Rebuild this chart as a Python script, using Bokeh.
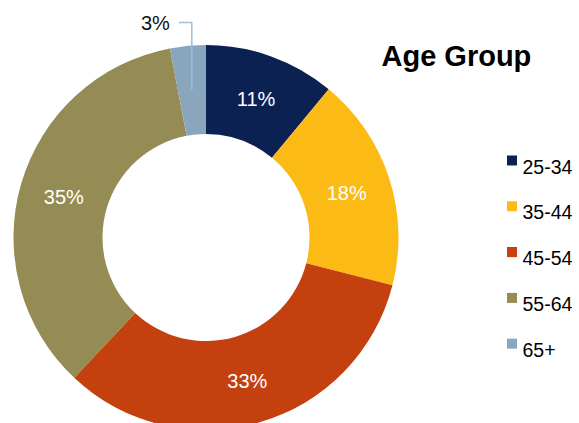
import math
from bokeh.plotting import figure
from bokeh.models import Range1d, ColumnDataSource
from bokeh.core.properties import value
from bokeh.embed import file_html
from bokeh.resources import INLINE

# ---- data ----
categories = ["25-34", "35-44", "45-54", "55-64", "65+"]
shares = [11, 18, 33, 35, 3]
colors = ["#0b2152", "#fbbb14", "#c4400f", "#958b55", "#8aa6bc"]
title_text = "Age Group"

# ---- layout (figure units == screen pixels, y up) ----
W, H = 579, 423
cx, cy = 205.5, H - 237.0
r_in, r_out = 103.5, 192.5
r_lab = 148.0
FONT = "Liberation Sans"

p = figure(width=W, height=H, output_backend="svg", toolbar_location=None,
           x_range=Range1d(0, W), y_range=Range1d(0, H), min_border=0)
p.axis.visible = False
p.grid.visible = False
p.outline_line_color = None
p.background_fill_color = "white"
p.border_fill_color = "white"

total = float(sum(shares))
starts, ends, mids = [], [], []
a = math.pi / 2
for s in shares:
    sweep = 2 * math.pi * s / total
    starts.append(a)
    ends.append(a - sweep)
    mids.append(a - sweep / 2)
    a -= sweep

src = ColumnDataSource(dict(start=starts, end=ends, color=colors,
                            cat=categories))
p.annular_wedge(x=cx, y=cy, inner_radius=r_in, outer_radius=r_out,
                start_angle="start", end_angle="end", direction="clock",
                fill_color="color", line_color=None, source=src)

# in-ring labels
lx, ly, lt = [], [], []
for s, m in zip(shares, mids):
    if s < 5:
        continue
    lx.append(cx + r_lab * math.cos(m))
    ly.append(cy + r_lab * math.sin(m) - 1)
    lt.append(f"{s}%")
p.text(x=lx, y=ly, text=lt, text_color="white", text_font=value(FONT),
       text_font_size="20px", text_align="center", text_baseline="middle")

# small slice label with leader line
small = [i for i, s in enumerate(shares) if s < 5]
for i in small:
    m = mids[i]
    ex = cx + (r_out - 10) * math.cos(m) + 3
    ey = cy + (r_out - 10) * math.sin(m) - 34
    top = H - 22
    p.line(x=[ex - 13, ex, ex], y=[top, top, ey], line_color="#9dbde0",
           line_width=1.5)
    p.text(x=[ex - 22], y=[top], text=[f"{shares[i]}%"], text_color="#111111",
           text_font=value(FONT), text_font_size="20px", text_align="right",
           text_baseline="middle")

# title
p.text(x=[381], y=[H - 55], text=[title_text], text_color="black",
       text_font=value(FONT), text_font_size="29px", text_font_style="bold",
       text_align="left", text_baseline="alphabetic")

# legend
leg_x_sq = 511.5
leg_x_txt = 522
base0 = H - 166
step = 45.8
sq_y = [base0 + 6 - k * step for k in range(len(categories))]
txt_y = [base0 - k * step for k in range(len(categories))]
p.rect(x=[leg_x_sq] * len(categories), y=sq_y, width=10, height=10,
       fill_color=colors, line_color=None)
p.text(x=[leg_x_txt] * len(categories), y=txt_y, text=categories,
       text_color="black", text_font=value(FONT), text_font_size="19.5px",
       text_align="left", text_baseline="alphabetic")

open("out.html", "w").write(file_html(p, INLINE))
